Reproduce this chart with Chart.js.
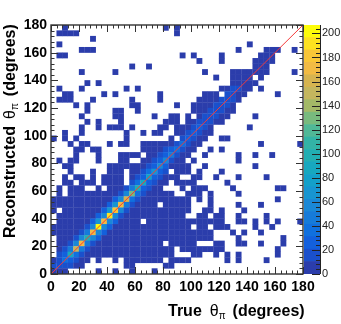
<!DOCTYPE html>
<html>
<head>
<meta charset="utf-8">
<style>
  html, body { margin: 0; padding: 0; background: #fff; }
  #wrap { position: relative; width: 341px; height: 324px; overflow: hidden; }
  canvas { position: absolute; top: 0; left: 0; }
</style>
<script src="https://cdn.jsdelivr.net/npm/chart.js@4"></script>
</head>
<body>
<div id="wrap">
  <canvas id="map" width="341" height="324"></canvas>
  <canvas id="bar" width="341" height="324"></canvas>
</div>
<script>
// occupied low count bins, one string per row, top row first ("3-5" is bins 3 to 5)
const filledBins = [
  "2 20 22", "1-4 22", "7", "1 35", "5-7 33 38-40 43",
  "1 2 23 25 30 37-39", "26 30 36-39", "14 17 36-38", "5 11 27 32-38 43", "29 32-35 37",
  "6 8 32-36", "1 5 13 15 30-35 37", "2 3 9 11 19 27-29 31-34 40", "1-3 7 14 19 26-33", "4 6 14 15 22 25-32",
  "6 11 12 15 25-32", "5 11 12 18 21 22 24 26-31 36", "6 8 12 20-22 24-30", "5 8 10-12 14 19 20 22-28 35", "2 5 13 16 18 19 22-28",
  "0 2 4 13 21 23-27 30 31", "3 5 6 10 12 13 16-26 37 44", "4 5 7 8 16-25 28 30", "4 8 12-15 17-24 27 33 36 39", "1 3 4 8 12 13 16-23 25 33",
  "2 3 10-24 27 36", "3 7 10-12 14-20 22-24 26 30", "2 4 5 7 9-12 14-22 25 26 29 33 38", "2 3 5-7 9-12 14-20 22-25 31", "1 3-5 8 10-19 23 25-27 32 40 41",
  "1 3-21 24-26 28 33", "0-24 26 28 40", "0-18 20-24 28 33 37", "0 2-24 27 28 30 34", "1-23 26 27 29 30 33 38",
  "1-15 17-30 33 34 36 38 40 44", "0-24 26 27 29-31 36 39", "0-28 32 34 37", "1-28 33 41", "1-19 21-25 29 30 33 34 37 41",
  "1-21 23-30 40", "1-21 25 26 29 31 33 40", "0-6 8 11 13-19 21-24 31 33 38", "0-5 13 14 20 21", "0-2 8 11 14 18"
];
const lowCount = 5;

// counts along the diagonal, indexed by x bin
const onDiagonal = [6, 14, 32, 85, 150, 172, 95, 170, 205, 172, 190, 185, 172, 160, 130, 95, 85, 80, 72, 62, 55, 48, 40, 35, 30, 25, 22, 16, 14, 14, 13, 14, 20, 14, 10, 8];
const oneAbove = [12, 20, 30, 45, 60, 55, 45, 60, 65, 60, 70, 65, 60, 52, 42, 35, 30, 32, 28, 26, 24, 22, 20, 18, 16, 14, 12, 12, 11, 12, 12, 14, 12];
const oneBelow = [0, 5, 12, 24, 40, 48, 42, 52, 62, 58, 62, 58, 52, 46, 38, 32, 28, 28, 26, 24, 22, 20, 20, 18, 16, 14, 12, 12, 11, 11, 11, 12, 14];
const twoAbove = [5, 11, 12, 15, 20, 18, 16, 22, 25, 25, 25, 22, 20, 18, 14, 12, 12, 12, 12, 11, 11];
const twoBelow = [0, 0, 5, 11, 14, 16, 15, 18, 22, 24, 24, 22, 18, 16, 14, 12, 12, 12, 11, 11, 11];

const tickValues = [0, 20, 40, 60, 80, 100, 120, 140, 160, 180];
const binWidth = 4;
const lineX = [0, 180];
const lineY = [0, 180];

// colour bar
const zMax = 207;
const zTicks = [0, 20, 40, 60, 80, 100, 120, 140, 160, 180, 200];
const zColors = ['#2b3dab', '#1a50cc', '#1360dc', '#1070de', '#167bd9', '#1a88d6', '#1795d1', '#13a0c9', '#17a8bf', '#22aeb2',
  '#33b3a6', '#50b897', '#78ba7e', '#a3b967', '#c4b65e', '#d6b450', '#f2bb44', '#f9c637', '#fde21f', '#fdfc0a'];
const zStep = zMax / zColors.length;

const sans = '"Liberation Sans", Arial, sans-serif';

function colorOf(v) {
  return zColors[Math.min(zColors.length - 1, Math.floor(v / zStep))];
}

// grid[row][col], row 0 on top
const grid = filledBins.map(spec => {
  const cells = new Array(45).fill(0);
  spec.split(' ').forEach(part => {
    const [a, b] = part.split('-').map(Number);
    for (let c = a; c <= (b === undefined ? a : b); c++) cells[c] = lowCount;
  });
  return cells;
});

function putBand(values, rowPlusCol) {
  values.forEach((v, c) => {
    const r = rowPlusCol - c;
    if (v > 0 && r >= 0 && r < 45) grid[r][c] = v;
  });
}
putBand(twoAbove, 42);
putBand(twoBelow, 46);
putBand(oneAbove, 43);
putBand(oneBelow, 45);
putBand(onDiagonal, 44);

const cellPoints = [];
grid.forEach((cells, r) => cells.forEach((v, c) => {
  if (v > 0) cellPoints.push({ x: (c + 0.5) * binWidth, y: 180 - (r + 0.5) * binWidth, v: v });
}));

// ROOT style frame with ticks pointing inwards on all sides, plus the titles
const framePlugin = {
  id: 'frame',
  afterDraw(chart) {
    const { ctx, chartArea: a, scales } = chart;
    ctx.save();
    ctx.strokeStyle = '#333';
    ctx.lineWidth = 1;
    ctx.beginPath();
    for (let v = 0; v <= 180; v += 4) {
      const len = v % 20 === 0 ? 7 : 3.5;
      const px = Math.round(scales.x.getPixelForValue(v)) + 0.5;
      const py = Math.round(scales.y.getPixelForValue(v)) + 0.5;
      ctx.moveTo(px, a.bottom); ctx.lineTo(px, a.bottom - len);
      ctx.moveTo(px, a.top); ctx.lineTo(px, a.top + len);
      ctx.moveTo(a.left, py); ctx.lineTo(a.left + len, py);
      ctx.moveTo(a.right, py); ctx.lineTo(a.right - len, py);
    }
    ctx.stroke();
    ctx.lineWidth = 1.4;
    ctx.strokeRect(a.left, a.top, a.right - a.left, a.bottom - a.top);

    ctx.fillStyle = '#000';
    ctx.textBaseline = 'alphabetic';
    ctx.textAlign = 'left';
    titleRow(ctx, 'True', 168, 316, 8);
    ctx.translate(15, 238);
    ctx.rotate(-Math.PI / 2);
    titleRow(ctx, 'Reconstructed', 0, 0, 7);
    ctx.restore();
  }
};

function titleRow(ctx, word, x, y, gap) {
  ctx.font = 'bold 16px ' + sans;
  ctx.fillText(word, x, y);
  x += ctx.measureText(word).width + gap;
  ctx.font = '16px ' + sans;
  ctx.fillText('θ', x, y);
  x += ctx.measureText('θ').width;
  ctx.font = '10px ' + sans;
  ctx.fillText('π', x, y + 3);
  x += ctx.measureText('π').width + 7;
  ctx.font = 'bold 16px ' + sans;
  ctx.fillText('(degrees)', x, y);
}

new Chart(document.getElementById('map'), {
  type: 'scatter',
  data: {
    datasets: [
      {
        data: lineX.map((x, i) => ({ x: x, y: lineY[i] })),
        showLine: true,
        borderColor: '#f43a3a',
        borderWidth: 1,
        pointRadius: 0,
        order: 0
      },
      {
        data: cellPoints,
        pointStyle: 'rect',
        pointRadius: 4.15,
        borderWidth: 0,
        pointBackgroundColor: ctx => colorOf(ctx.raw.v),
        order: 1
      }
    ]
  },
  options: {
    responsive: false,
    animation: false,
    layout: { padding: { top: 25, right: 38, left: 0, bottom: 0 } },
    plugins: { legend: { display: false }, tooltip: { enabled: false } },
    scales: {
      x: {
        type: 'linear', min: 0, max: 180,
        afterFit: s => { s.height = 50; },
        afterBuildTicks: s => { s.ticks = tickValues.map(v => ({ value: v })); },
        grid: { display: false, drawTicks: false },
        border: { display: false },
        ticks: { color: '#000', font: { family: sans, weight: 'bold', size: 14 }, padding: 5, maxRotation: 0, autoSkip: false }
      },
      y: {
        type: 'linear', min: 0, max: 180,
        afterFit: s => { s.width = 51; },
        afterBuildTicks: s => { s.ticks = tickValues.map(v => ({ value: v })); },
        grid: { display: false, drawTicks: false },
        border: { display: false },
        ticks: { color: '#000', font: { family: sans, weight: 'bold', size: 14 }, padding: 4, autoSkip: false }
      }
    }
  },
  plugins: [framePlugin]
});

// the colour bar is a second chart laid over the first
const barTicksPlugin = {
  id: 'barTicks',
  afterDraw(chart) {
    const { ctx, chartArea: a, scales } = chart;
    ctx.save();
    ctx.strokeStyle = '#222';
    ctx.lineWidth = 1;
    ctx.beginPath();
    for (let v = 0; v <= zMax; v += 4) {
      const len = v % 20 === 0 ? 8 : 4;
      const py = Math.round(scales.y.getPixelForValue(v)) + 0.5;
      ctx.moveTo(a.right, py); ctx.lineTo(a.right - len, py);
    }
    ctx.moveTo(a.right + 0.5, a.top); ctx.lineTo(a.right + 0.5, a.bottom);
    ctx.stroke();
    ctx.restore();
  }
};

new Chart(document.getElementById('bar'), {
  type: 'bar',
  data: {
    labels: ['z'],
    datasets: zColors.map((color, i) => ({
      data: [[i * zStep, (i + 1) * zStep]],
      backgroundColor: color,
      barPercentage: 1,
      categoryPercentage: 1
    }))
  },
  options: {
    responsive: false,
    animation: false,
    layout: { padding: { top: 25, left: 304, right: 0, bottom: 50 } },
    plugins: { legend: { display: false }, tooltip: { enabled: false } },
    scales: {
      x: { stacked: true, display: false },
      y: {
        position: 'right',
        min: 0, max: zMax,
        afterFit: s => { s.width = 21; },
        afterBuildTicks: s => { s.ticks = zTicks.map(v => ({ value: v })); },
        grid: { display: false, drawTicks: false },
        border: { display: false },
        ticks: { color: '#222', font: { family: sans, size: 11 }, padding: 2, autoSkip: false }
      }
    }
  },
  plugins: [barTicksPlugin]
});
</script>
</body>
</html>
